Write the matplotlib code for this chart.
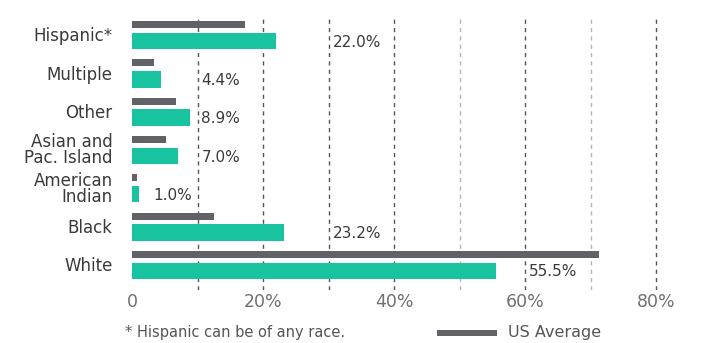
import numpy as np
import matplotlib
matplotlib.use("Agg")
import matplotlib.pyplot as plt
from matplotlib.patches import Rectangle

categories = ["Hispanic*", "Multiple", "Other", "Asian and\nPac. Island",
              "American\nIndian", "Black", "White"]
group_values = [22.0, 4.4, 8.9, 7.0, 1.0, 23.2, 55.5]
us_average = [17.3, 3.4, 6.7, 5.2, 0.8, 12.5, 71.3]
value_labels = ["22.0%", "4.4%", "8.9%", "7.0%", "1.0%", "23.2%", "55.5%"]
xticks = [0, 20, 40, 60, 80]
xtick_labels = ["0", "20%", "40%", "60%", "80%"]
footnote = "* Hispanic can be of any race."
legend_label = "US Average"

TEAL = "#19c3a0"
GRAY = "#616166"
TEXT = "#3a3a3a"

plt.rcParams['font.family'] = ['DejaVu Sans']

fig = plt.figure(figsize=(7.13, 3.43), dpi=100)
ax = fig.add_axes([132/713, 1-290/343, (689-132)/713, 272/343])

y = np.arange(len(categories))
# gridlines
for g in range(10, 90, 10):
    col = "#b5b5b5" if g in (50, 70) else "#555555"
    ax.axvline(g, color=col, ls=(0, (3, 3)), lw=1.0, zorder=0)

ax.barh(y, group_values, height=0.43, color=TEAL, zorder=2)
ax.barh(y - 0.43, us_average, height=0.18, color=GRAY, zorder=2)

for yi, v, lab in zip(y, group_values, value_labels):
    lx = np.ceil(v / 10) * 10 + 0.6 if v >= 2 else v + 2.3
    ax.text(lx, yi + 0.03, lab, va="center", ha="left", fontsize=11, color=TEXT)

ax.set_xlim(0, 85)
ax.set_ylim(6.5, -0.6)
ax.set_yticks(y - 0.17)
ax.set_yticklabels(categories, fontsize=12, color=TEXT, linespacing=0.85)
ax.set_xticks(xticks)
ax.set_xticklabels(xtick_labels, fontsize=12.5, color="#707070")
ax.tick_params(axis="both", length=0)
ax.tick_params(axis="y", pad=14)
ax.tick_params(axis="x", pad=2)
for s in ax.spines.values():
    s.set_visible(False)

fig.text(125/713, 1-333/343, footnote, fontsize=10.5, color="#555555", va="center", ha="left")
fig.patches.append(Rectangle((437/713, 1-336/343), 60/713, 6/343, transform=fig.transFigure,
                             facecolor=GRAY, edgecolor="none"))
fig.text(508/713, 1-333/343, legend_label, fontsize=11.5, color="#555555", va="center", ha="left")

fig.savefig("out.png", dpi=100)
